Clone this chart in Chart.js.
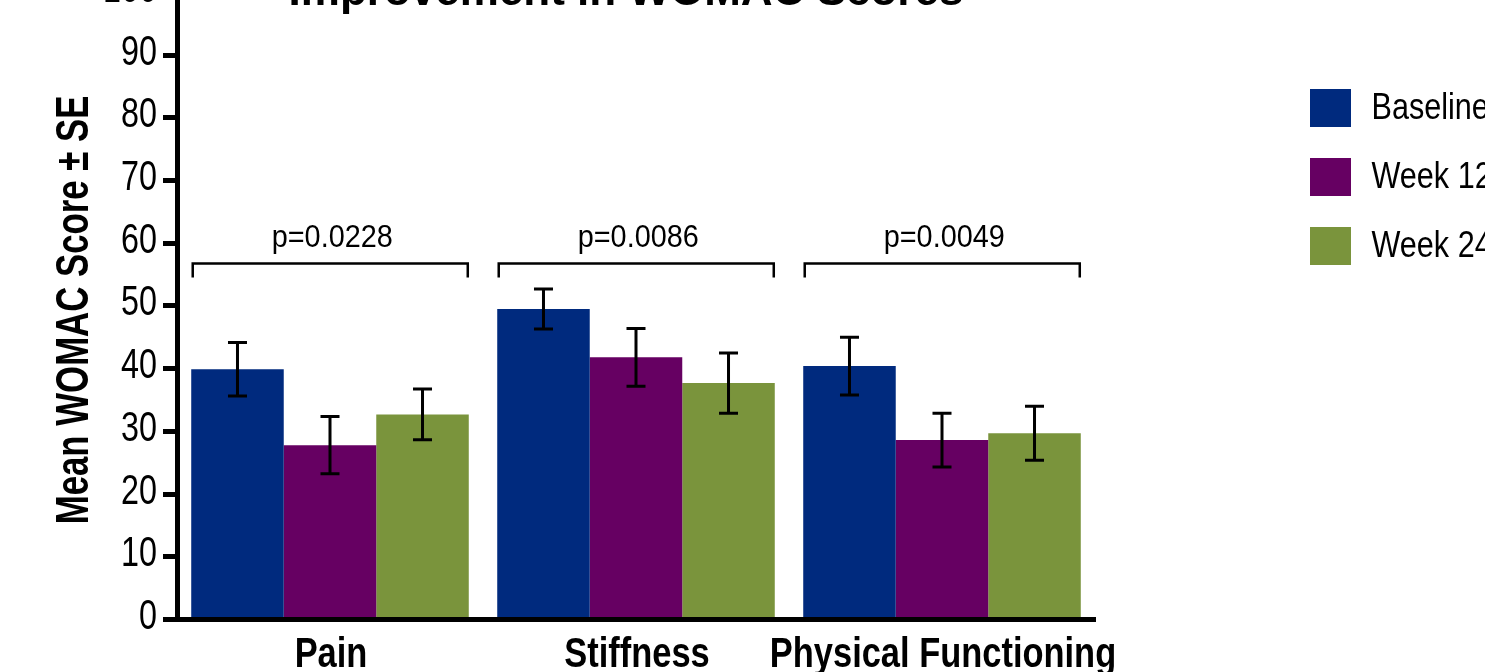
<!DOCTYPE html>
<html>
<head>
<meta charset="utf-8">
<title>Improvement in WOMAC Scores</title>
<script src="https://cdn.jsdelivr.net/npm/chart.js@4.4.1/dist/chart.umd.min.js"></script>
<style>
  html, body { margin: 0; padding: 0; background: #ffffff; overflow: hidden; }
  #wrap { position: relative; width: 1485px; height: 672px; overflow: hidden; background: #ffffff; }
  #c { position: absolute; left: 0; top: -50px; }
</style>
</head>
<body>
<div id="wrap"><canvas id="c" width="1560" height="770"></canvas></div>
<script>
// WOMAC subscale means and standard errors at each visit
const categories = ['Pain', 'Stiffness', 'Physical Functioning'];
const seriesNames = ['Baseline', 'Week 12', 'Week 24'];
const baselineMean = [39.9, 49.5, 40.4];
const baselineSE = [4.25, 3.2, 4.6];
const week12Mean = [27.8, 41.8, 28.6];
const week12SE = [4.55, 4.6, 4.3];
const week24Mean = [32.7, 37.7, 29.7];
const week24SE = [4.05, 4.8, 4.3];
const pValueLabels = ['p=0.0228', 'p=0.0086', 'p=0.0049'];
const yTickValues = [0, 10, 20, 30, 40, 50, 60, 70, 80, 90, 100];
const chartTitle = 'Improvement in WOMAC Scores';
const yAxisTitle = 'Mean WOMAC Score \u00B1 SE';

const SANS = "'Liberation Sans', Arial, Helvetica, sans-serif";
const COLORS = ['#002A7E', '#660062', '#7A943C'];

// Draws text squeezed horizontally to get a condensed face
function condensedText(ctx, text, x, y, font, squeeze, align, baseline, angle) {
  ctx.save();
  ctx.translate(x, y);
  if (angle) ctx.rotate(angle);
  ctx.scale(squeeze, 1);
  ctx.font = font;
  ctx.textAlign = align;
  ctx.textBaseline = baseline;
  ctx.fillStyle = '#000';
  ctx.fillText(text, 0, 0);
  ctx.restore();
}

// Error bars (mean ± SE) on top of every bar
const errorBars = {
  id: 'errorBars',
  afterDatasetsDraw(chart) {
    const ctx = chart.ctx;
    const y = chart.scales.y;
    ctx.save();
    ctx.strokeStyle = '#000';
    ctx.lineWidth = 3;
    ctx.lineCap = 'butt';
    chart.data.datasets.forEach((ds, di) => {
      const meta = chart.getDatasetMeta(di);
      meta.data.forEach((bar, i) => {
        const m = ds.data[i], e = ds.se[i];
        const top = y.getPixelForValue(m + e);
        const bot = y.getPixelForValue(m - e);
        const half = 9.5;
        ctx.beginPath();
        ctx.moveTo(bar.x, top); ctx.lineTo(bar.x, bot);
        ctx.moveTo(bar.x - half, top); ctx.lineTo(bar.x + half, top);
        ctx.moveTo(bar.x - half, bot); ctx.lineTo(bar.x + half, bot);
        ctx.stroke();
      });
    });
    ctx.restore();
  }
};

// Significance brackets spanning each group, with the p-value above
const brackets = {
  id: 'brackets',
  afterDraw(chart) {
    const ctx = chart.ctx;
    const y = chart.scales.y;
    const first = chart.getDatasetMeta(0).data;
    const last = chart.getDatasetMeta(chart.data.datasets.length - 1).data;
    const lineY = y.getPixelForValue(56.75);
    ctx.save();
    ctx.strokeStyle = '#000';
    ctx.lineWidth = 2.5;
    pValueLabels.forEach((label, i) => {
      const l = first[i].x - first[i].width / 2 + 1.5;
      const r = last[i].x + last[i].width / 2 - 1;
      ctx.beginPath();
      ctx.moveTo(l, lineY + 14);
      ctx.lineTo(l, lineY);
      ctx.lineTo(r, lineY);
      ctx.lineTo(r, lineY + 14);
      ctx.stroke();
      condensedText(ctx, label, (l + r) / 2 + 2, lineY - 16.8, '32px ' + SANS, 0.9, 'center', 'alphabetic');
    });
    ctx.restore();
  }
};

// Axis labels, heading and series key
const textLayer = {
  id: 'textLayer',
  afterDraw(chart) {
    const ctx = chart.ctx;
    const area = chart.chartArea;
    const xs = chart.scales.x;
    const ys = chart.scales.y;

    // y tick labels
    yTickValues.forEach(v => {
      condensedText(ctx, String(v), area.left - 20, ys.getPixelForValue(v) - 2,
        '42px ' + SANS, 0.77, 'right', 'middle');
    });

    // category labels
    categories.forEach((c, i) => {
      condensedText(ctx, c, xs.getPixelForValue(i) + 1, area.bottom + 47.5,
        'bold 42px ' + SANS, 0.82, 'center', 'alphabetic');
    });

    // y axis title
    condensedText(ctx, yAxisTitle, 75, (area.top + area.bottom) / 2 + 4,
      'bold 47px ' + SANS, 0.74, 'center', 'middle', -Math.PI / 2);

    // heading
    ctx.save();
    ctx.fillStyle = '#000';
    ctx.font = 'bold 44px ' + SANS;
    ctx.textAlign = 'center';
    ctx.textBaseline = 'alphabetic';
    ctx.fillText(chartTitle, (area.left + area.right) / 2 - 10, area.top + 12.7);
    ctx.restore();

    // series key
    const keyX = area.right + 215;
    const keyY = area.top + 115.7;
    chart.data.datasets.forEach((ds, i) => {
      const cy = keyY + i * 69;
      ctx.save();
      ctx.fillStyle = ds.backgroundColor;
      ctx.fillRect(keyX, cy - 19, 41, 38);
      ctx.restore();
      condensedText(ctx, ds.label, keyX + 61.5, cy + 1, '36px ' + SANS, 0.85, 'left', 'middle');
    });
  }
};

function build() {
  const means = [baselineMean, week12Mean, week24Mean];
  const ses = [baselineSE, week12SE, week24SE];
  new Chart(document.getElementById('c'), {
    type: 'bar',
    data: {
      labels: categories,
      datasets: seriesNames.map((name, i) => ({
        label: name,
        data: means[i],
        se: ses[i],
        backgroundColor: COLORS[i],
        borderWidth: 0,
        categoryPercentage: 0.907,
        barPercentage: 1.0
      }))
    },
    options: {
      responsive: false,
      animation: false,
      devicePixelRatio: 1,
      layout: { padding: { top: 42.3, left: 0, right: 465, bottom: 0 } },
      plugins: {
        legend: { display: false },
        tooltip: { enabled: false },
        title: { display: false }
      },
      scales: {
        x: {
          grid: { display: true, drawOnChartArea: false, drawTicks: false },
          border: { display: true, color: '#000', width: 5 },
          ticks: { display: false },
          afterFit(scale) { scale.height = 100.5; }
        },
        y: {
          min: 0,
          max: 100,
          afterBuildTicks(scale) { scale.ticks = yTickValues.map(v => ({ value: v })); },
          ticks: { display: false },
          grid: {
            drawOnChartArea: false,
            drawTicks: true,
            tickLength: 14,
            tickWidth: 5,
            tickColor: '#000',
            lineWidth: 5,
            color: '#000'
          },
          border: { display: true, color: '#000', width: 5 },
          title: { display: false },
          afterFit(scale) { scale.width = 177; }
        }
      }
    },
    plugins: [errorBars, brackets, textLayer]
  });
}

if (document.fonts && document.fonts.load) {
  Promise.all([
    document.fonts.load("42px 'Liberation Sans'"),
    document.fonts.load("bold 42px 'Liberation Sans'")
  ]).then(build, build);
} else {
  build();
}
</script>
</body>
</html>
